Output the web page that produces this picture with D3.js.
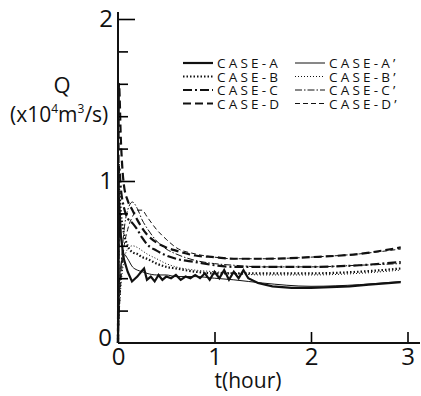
<!DOCTYPE html>
<html>
<head>
<meta charset="utf-8">
<script src="https://cdn.jsdelivr.net/npm/d3@7.9.0/dist/d3.min.js"></script>
<style>
  body { margin: 0; background: #fff; }
  svg text { font-family: "Open Sans", "Liberation Sans", sans-serif; fill: #111; }
</style>
</head>
<body>
<svg id="chart" width="421" height="396"></svg>
<script>
// time grid (hours) shared by the smooth curves
const hours = [0, 0.01, 0.03, 0.06, 0.1, 0.15, 0.2, 0.25, 0.3, 0.4, 0.5, 0.6, 0.8, 1.0, 1.2, 1.5, 2.0, 2.5, 2.93];

// Q (x10^4 m3/s)
const caseB  = [0, 0.95, 0.80, 0.68, 0.60, 0.56, 0.55, 0.53, 0.52, 0.49, 0.47, 0.46, 0.44, 0.43, 0.43, 0.43, 0.43, 0.44, 0.46];
const caseC  = [0, 1.10, 0.95, 0.84, 0.77, 0.74, 0.70, 0.65, 0.61, 0.57, 0.54, 0.52, 0.50, 0.48, 0.47, 0.47, 0.47, 0.48, 0.50];
const caseD  = [0, 1.60, 1.25, 0.98, 0.88, 0.82, 0.76, 0.71, 0.67, 0.62, 0.59, 0.57, 0.54, 0.53, 0.52, 0.52, 0.53, 0.55, 0.59];
const caseA2 = [0, 0.30, 0.48, 0.55, 0.52, 0.47, 0.45, 0.44, 0.43, 0.42, 0.42, 0.41, 0.41, 0.40, 0.39, 0.37, 0.35, 0.36, 0.38];
const caseB2 = [0, 0.15, 0.35, 0.50, 0.58, 0.60, 0.59, 0.57, 0.55, 0.52, 0.49, 0.47, 0.45, 0.44, 0.43, 0.42, 0.42, 0.43, 0.45];
const caseC2 = [0, 0.20, 0.45, 0.68, 0.82, 0.87, 0.83, 0.76, 0.71, 0.63, 0.58, 0.55, 0.51, 0.49, 0.48, 0.47, 0.47, 0.48, 0.49];
const caseD2 = [0, 0.15, 0.38, 0.58, 0.70, 0.78, 0.82, 0.82, 0.78, 0.70, 0.64, 0.59, 0.55, 0.53, 0.52, 0.52, 0.53, 0.55, 0.58];

// CASE-A oscillates, so it has its own finer grid
const hoursA = [0, 0.01, 0.03, 0.06, 0.1, 0.145, 0.2, 0.24, 0.27, 0.3, 0.34, 0.38, 0.42, 0.46, 0.5,
  0.55, 0.6, 0.65, 0.7, 0.75, 0.8, 0.85, 0.9, 0.95, 1.0, 1.05, 1.1, 1.15, 1.2, 1.25, 1.3, 1.35,
  1.45, 1.6, 1.8, 2.0, 2.2, 2.4, 2.6, 2.8, 2.93];
const caseA = [0, 0.90, 0.66, 0.52, 0.44, 0.38, 0.41, 0.44, 0.46, 0.39, 0.41, 0.38, 0.42, 0.39, 0.41,
  0.40, 0.42, 0.39, 0.41, 0.40, 0.42, 0.40, 0.43, 0.39, 0.44, 0.40, 0.45, 0.39, 0.44, 0.40, 0.45, 0.40,
  0.37, 0.35, 0.34, 0.34, 0.345, 0.35, 0.36, 0.37, 0.375];

const xTicks = [0, 1, 2, 3];
const yTicks = [0, 1, 2];
const yMinorTicks = [0.2, 0.4, 0.6, 0.8, 1.2, 1.4, 1.6, 1.8];

const legendNames = ['CASE-A', 'CASE-B', 'CASE-C', 'CASE-D'];

const thick = 2.2, thin = 1;
const styles = {
  solid: { thick: null, thin: null },
  dotted: { thick: '1.5,2', thin: '1,2' },
  dashdot: { thick: '9,3,2,3', thin: '7,2,1.5,2' },
  dashed: { thick: '8,4', thin: '5,3' },
};

const series = [
  { name: 'CASE-A', t: hoursA, q: caseA, style: 'solid', w: 'thick', curve: d3.curveLinear },
  { name: 'CASE-B', t: hours, q: caseB, style: 'dotted', w: 'thick', curve: d3.curveMonotoneX },
  { name: 'CASE-C', t: hours, q: caseC, style: 'dashdot', w: 'thick', curve: d3.curveMonotoneX },
  { name: 'CASE-D', t: hours, q: caseD, style: 'dashed', w: 'thick', curve: d3.curveMonotoneX },
  { name: "CASE-A'", t: hours, q: caseA2, style: 'solid', w: 'thin', curve: d3.curveMonotoneX },
  { name: "CASE-B'", t: hours, q: caseB2, style: 'dotted', w: 'thin', curve: d3.curveMonotoneX },
  { name: "CASE-C'", t: hours, q: caseC2, style: 'dashdot', w: 'thin', curve: d3.curveMonotoneX },
  { name: "CASE-D'", t: hours, q: caseD2, style: 'dashed', w: 'thin', curve: d3.curveMonotoneX },
];

const svg = d3.select('#chart');

const x = d3.scaleLinear().domain([0, 3]).range([118, 407.5]);
const y = d3.scaleLinear().domain([0, 2]).range([343, 19]);

// curves
series.forEach((s) => {
  let line = d3.line()
    .x((d, i) => x(s.t[i]))
    .y((d) => y(d))
    .curve(s.curve);
  svg.append('path')
    .attr('d', line(s.q))
    .attr('fill', 'none')
    .attr('stroke', '#111')
    .attr('stroke-width', s.w === 'thick' ? thick : thin)
    .attr('stroke-dasharray', styles[s.style][s.w]);
});

// x axis
let xAxis = svg.append('g')
  .attr('transform', `translate(0,${y(0)})`)
  .call(d3.axisBottom(x).tickValues(xTicks).tickSize(-11).tickPadding(5).tickFormat(d3.format('d')));
xAxis.select('.domain').remove();
xAxis.selectAll('.tick line').attr('stroke-width', 1.6);
xAxis.selectAll('.tick').filter((d) => d === 0).select('line').remove();
xAxis.selectAll('text').attr('font-size', 24).attr('fill', '#111');
svg.append('line')
  .attr('x1', x(0)).attr('x2', 420)
  .attr('y1', y(0)).attr('y2', y(0))
  .attr('stroke', '#111').attr('stroke-width', 2);

// y axis
let yAxis = svg.append('g')
  .attr('transform', `translate(${x(0)},0)`)
  .call(d3.axisLeft(y).tickValues(yTicks).tickSize(-17).tickPadding(5).tickFormat(d3.format('d')));
yAxis.select('.domain').remove();
yAxis.selectAll('.tick line').attr('stroke-width', 1.6);
yAxis.selectAll('.tick').filter((d) => d === 0).select('line').remove();
yAxis.selectAll('text').attr('font-size', 24).attr('fill', '#111');
yAxis.selectAll('.tick').filter((d) => d === 0).select('text').attr('dx', -1).attr('dy', '0.1em');

let yMinor = svg.append('g')
  .attr('transform', `translate(${x(0)},0)`)
  .call(d3.axisLeft(y).tickValues(yMinorTicks).tickSize(-10).tickFormat(''));
yMinor.select('.domain').remove();
yMinor.selectAll('.tick line').attr('stroke-width', 1.6);

svg.append('line')
  .attr('x1', x(0)).attr('x2', x(0))
  .attr('y1', 12).attr('y2', y(0))
  .attr('stroke', '#111').attr('stroke-width', 2);

// axis titles
svg.append('text')
  .attr('x', 248).attr('y', 388)
  .attr('text-anchor', 'middle')
  .attr('font-size', 21)
  .text('t(hour)');

svg.append('text')
  .attr('x', 62).attr('y', 93)
  .attr('text-anchor', 'middle')
  .attr('font-size', 22)
  .text('Q');

let unit = svg.append('text')
  .attr('x', 10).attr('y', 122)
  .attr('font-size', 21);
unit.append('tspan').text('(x10');
unit.append('tspan').attr('font-size', 12).attr('dy', -9).text('4');
unit.append('tspan').attr('dy', 9).text('m');
unit.append('tspan').attr('font-size', 12).attr('dy', -9).text('3');
unit.append('tspan').attr('dy', 9).text('/s)');

// legend
const legendRows = [63, 76.5, 90, 103.5];
const legendCols = [
  { x1: 183, x2: 213, tx: 217, w: 'thick', suffix: '' },
  { x1: 295, x2: 325, tx: 329, w: 'thin', suffix: '\u2019' },
];
const legendStyles = ['solid', 'dotted', 'dashdot', 'dashed'];

legendCols.forEach((col) => {
  legendNames.forEach((name, i) => {
    let yy = legendRows[i];
    svg.append('line')
      .attr('x1', col.x1).attr('x2', col.x2)
      .attr('y1', yy).attr('y2', yy)
      .attr('stroke', '#111')
      .attr('stroke-width', col.w === 'thick' ? thick : thin)
      .attr('stroke-dasharray', styles[legendStyles[i]][col.w]);
    svg.append('text')
      .attr('x', col.tx).attr('y', yy + 5)
      .attr('font-size', 13.5)
      .attr('letter-spacing', 3.2)
      .text(name + col.suffix);
  });
});
</script>
</body>
</html>
